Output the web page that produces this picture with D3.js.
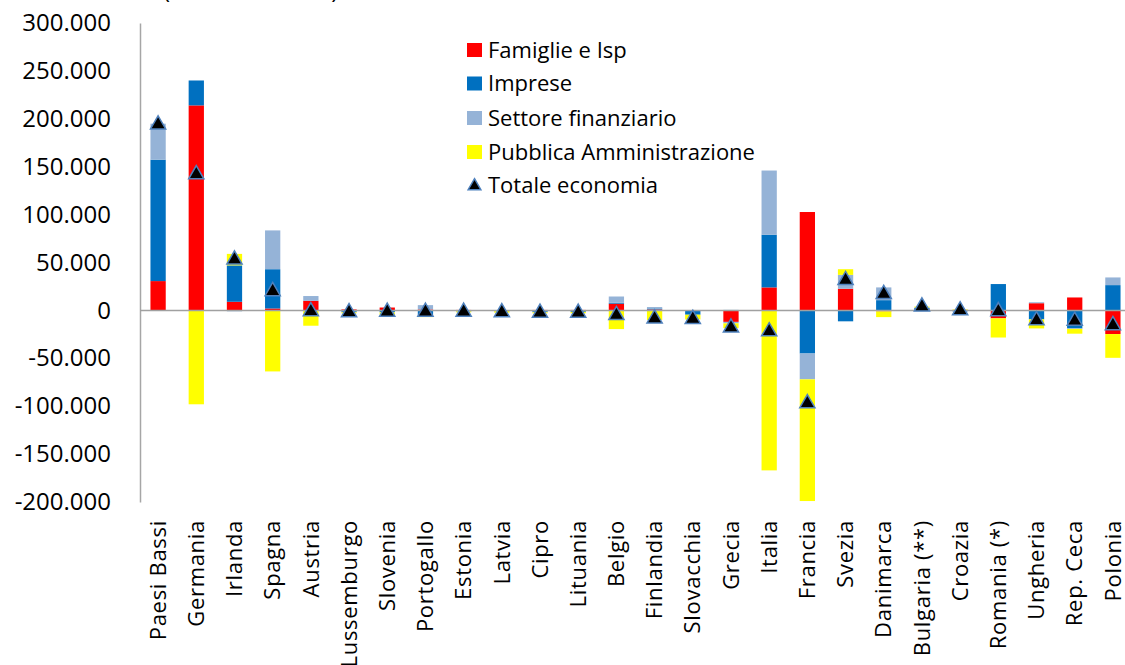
<!DOCTYPE html>
<html>
<head>
<meta charset="utf-8">
<script src="https://cdn.jsdelivr.net/npm/d3@7"></script>
<style>
  html, body { margin: 0; padding: 0; background: #fff; overflow: hidden; }
  svg { display: block; font-family: "Open Sans", "Noto Sans", sans-serif; }
</style>
</head>
<body>
<svg id="chart" width="1125" height="665"></svg>
<script>
// ---- data (values in millions of euro) ----
const categories = ["Paesi Bassi","Germania","Irlanda","Spagna","Austria","Lussemburgo","Slovenia","Portogallo","Estonia","Latvia","Cipro","Lituania","Belgio","Finlandia","Slovacchia","Grecia","Italia","Francia","Svezia","Danimarca","Bulgaria (**)","Croazia","Romania (*)","Ungheria","Rep. Ceca","Polonia"];
const famiglie  = [30600, 214000, 9000, 2000, 10000, 1000, 3000, 1000, 500, 300, 500, 500, 7000, 1000, -500, -12000, 24000, 102700, 22600, -1000, 1000, 500, -8300, 7500, 13500, -24700];
const imprese   = [126700, 26000, 38000, 41000, 0, -1500, -2000, -5500, -1000, -800, -1500, -1500, 1000, 1000, -4000, 500, 55000, -45000, -11400, 10700, 1500, -1000, 27500, -9400, -18800, 26400];
const finanziario = [37600, 0, -1000, 40500, 5000, -500, 0, 4500, 0, 0, -500, 0, 6500, 1500, 0, -1500, 67000, -27000, 14500, 13300, 500, 0, 0, 1000, -500, 8000];
const pubblica  = [0, -98000, 12000, -63700, -16000, -1000, -2500, -1500, -1000, -1500, -1000, -1500, -19500, -10000, -5000, -5000, -167000, -127000, 5900, -6000, 1000, 500, -20000, -9400, -5000, -24800];
const totale    = [194000, 142000, 53000, 20000, -1000, -2000, -1500, -1500, -1500, -2000, -2500, -2500, -5000, -8500, -9000, -18000, -22000, -97000, 31500, 17000, 4000, 0, -1000, -10500, -11000, -15500];
const yTicks    = [-200000, -150000, -100000, -50000, 0, 50000, 100000, 150000, 200000, 250000, 300000];
const seriesNames = ["Famiglie e Isp", "Imprese", "Settore finanziario", "Pubblica Amministrazione"];
const totalName = "Totale economia";
const titleText = "(milioni di euro)";

const colors = ["#FF0000", "#0070C0", "#95B3D7", "#FFFF00"];

// ---- build table ----
const keys = ["fam", "imp", "fin", "pa"];
const rows = categories.map((c, i) => ({
  cat: c, fam: famiglie[i], imp: imprese[i], fin: finanziario[i], pa: pubblica[i], tot: totale[i]
}));

const svg = d3.select("#chart");

const x = d3.scaleBand().domain(categories).range([139, 1132]).paddingInner(0.6).paddingOuter(0.3);
const y = d3.scaleLinear().domain([-200000, 300000]).range([502, 23]);

const loc = d3.formatLocale({decimal: ",", thousands: ".", grouping: [3], currency: ["", " €"], minus: "-"});
const fmt = loc.format(",");

// title (cut off at top, as in the original)
svg.append("text").attr("x", 163).attr("y", -2)
  .attr("font-size", 24).attr("fill", "#000").text(titleText);

// y axis
const yAxis = d3.axisLeft(y).tickValues(yTicks).tickFormat(fmt).tickSize(0).tickPadding(29);
const gy = svg.append("g").attr("transform", "translate(140,0)").call(yAxis);
gy.select(".domain").attr("stroke", "#a6a6a6").attr("stroke-width", 1.5);
gy.selectAll("text").attr("font-size", 24).attr("fill", "#000").attr("font-family", "Open Sans");

// bars
const stack = d3.stack().keys(keys).offset(d3.stackOffsetDiverging);
const stacked = stack(rows);
svg.append("g").selectAll("g").data(stacked).join("g")
  .attr("fill", (d, i) => colors[i])
  .selectAll("rect").data(d => d).join("rect")
  .attr("x", d => x(d.data.cat))
  .attr("width", x.bandwidth())
  .attr("y", d => y(Math.max(d[0], d[1])))
  .attr("height", d => Math.abs(y(d[0]) - y(d[1])));

// zero line
svg.append("line").attr("x1", 140).attr("x2", 1125).attr("y1", y(0)).attr("y2", y(0))
  .attr("stroke", "#a0a0a0").attr("stroke-width", 1.5);

// x axis labels
const xAxis = d3.axisBottom(x).tickSize(0).tickPadding(0);
const gx = svg.append("g").attr("transform", `translate(0,${y(-200000)})`).call(xAxis);
gx.select(".domain").remove();
gx.selectAll("text")
  .attr("font-size", 22).attr("fill", "#000").attr("font-family", "Open Sans")
  .attr("letter-spacing", 0.7)
  .attr("text-anchor", "end")
  .attr("transform", "translate(0,18) rotate(-90)")
  .attr("x", 0).attr("y", 0).attr("dy", "0.35em");

// total markers
const tri = d3.symbol().type(d3.symbolTriangle).size(100);
svg.append("g").selectAll("path").data(rows).join("path")
  .attr("d", tri)
  .attr("transform", d => `translate(${x(d.cat) + x.bandwidth() / 2},${y(d.tot)})`)
  .attr("fill", "#000").attr("stroke", "#4F81BD").attr("stroke-width", 1.5);

// legend
const lg = svg.append("g");
const legendY = [50, 83.5, 118, 152];
seriesNames.forEach((n, i) => {
  lg.append("rect").attr("x", 467).attr("y", legendY[i] - 7).attr("width", 15).attr("height", 14).attr("fill", colors[i]);
  lg.append("text").attr("x", 488).attr("y", legendY[i]).attr("dy", "0.35em")
    .attr("font-size", 22).attr("fill", "#000").text(n);
});
lg.append("path").attr("d", d3.symbol().type(d3.symbolTriangle).size(70)())
  .attr("transform", "translate(474.5,186)")
  .attr("fill", "#000").attr("stroke", "#4F81BD").attr("stroke-width", 1.5);
lg.append("text").attr("x", 488).attr("y", 185.5).attr("dy", "0.35em")
  .attr("font-size", 22).attr("fill", "#000").text(totalName);
</script>
</body>
</html>
